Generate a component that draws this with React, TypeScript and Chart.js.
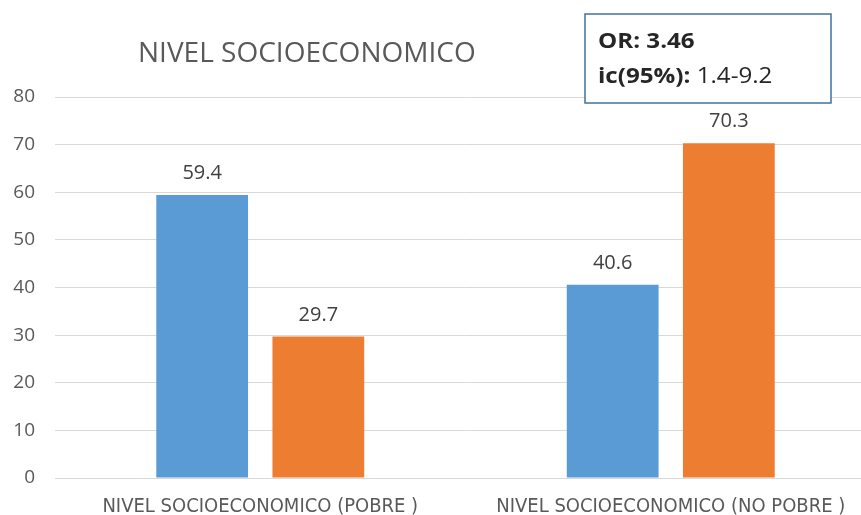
import React, { useEffect, useRef } from "react";
import { Chart, registerables } from "chart.js";

Chart.register(...registerables);

const categories = [
  "NIVEL SOCIOECONOMICO (POBRE )",
  "NIVEL SOCIOECONOMICO (NO POBRE )",
];
const seriesBlue = [59.4, 40.6];
const seriesOrange = [29.7, 70.3];
const yTicks = [0, 10, 20, 30, 40, 50, 60, 70, 80];
const chartTitle = "NIVEL SOCIOECONOMICO";
const noteBold1 = "OR: 3.46";
const noteBold2 = "ic(95%):";
const noteNormal2 = " 1.4-9.2";

const GRAY = "#595959";
const FONT = "'Open Sans', 'Noto Sans', sans-serif";

const overlayPlugin = {
  id: "overlay",
  afterDatasetsDraw(chart: any) {
    const ctx = chart.ctx as CanvasRenderingContext2D;
    ctx.save();
    // value labels above bars
    ctx.fillStyle = "#404040";
    ctx.font = `20px ${FONT}`;
    ctx.textAlign = "center";
    ctx.textBaseline = "alphabetic";
    chart.data.datasets.forEach((ds: any, di: number) => {
      const meta = chart.getDatasetMeta(di);
      meta.data.forEach((bar: any, i: number) => {
        ctx.fillText(String(ds.data[i]), bar.x, bar.y - 16);
      });
    });
    // title
    ctx.fillStyle = GRAY;
    ctx.font = `28px ${FONT}`;
    ctx.textAlign = "left";
    ctx.fillText(chartTitle, 138, 62);
    // note box
    ctx.fillStyle = "#ffffff";
    ctx.fillRect(585, 14, 246, 89);
    ctx.strokeStyle = "#41719c";
    ctx.lineWidth = 1.5;
    ctx.strokeRect(585, 14, 246, 89);
    ctx.fillStyle = "#262626";
    ctx.translate(598, 0);
    ctx.scale(1.15, 1);
    ctx.font = `bold 21px ${FONT}`;
    ctx.fillText(noteBold1, 0, 48);
    ctx.fillText(noteBold2, 0, 83);
    const w = ctx.measureText(noteBold2).width;
    ctx.font = `21px ${FONT}`;
    ctx.fillText(noteNormal2, w, 83);
    ctx.restore();
  },
};

export default function App() {
  const ref = useRef<HTMLCanvasElement>(null);
  useEffect(() => {
    if (!ref.current) return;
    const chart = new Chart(ref.current, {
      type: "bar",
      data: {
        labels: categories,
        datasets: [
          { data: seriesBlue, backgroundColor: "#5b9bd5" },
          { data: seriesOrange, backgroundColor: "#ed7d31" },
        ],
      },
      options: {
        animation: false,
        responsive: false,
        layout: { padding: { top: 97, bottom: 0, left: 0, right: 4 } },
        plugins: { legend: { display: false }, tooltip: { enabled: false } },
        datasets: { bar: { categoryPercentage: 0.566, barPercentage: 0.79 } },
        scales: {
          x: {
            afterFit: (s: any) => { s.height = 37; },
            grid: { display: false, drawTicks: false },
            border: { color: "#d9d9d9", width: 1 },
            ticks: {
              color: GRAY,
              font: { family: "'Liberation Sans Narrow', 'DejaVu Sans Condensed', sans-serif", size: 20 },
              padding: 17,
              maxRotation: 0,
              autoSkip: false,
            },
          },
          y: {
            min: 0,
            max: 80,
            afterFit: (s: any) => { s.width = 55; },
            afterBuildTicks: (s: any) => { s.ticks = yTicks.map((v) => ({ value: v })); },
            grid: { color: "#d9d9d9", drawTicks: false },
            border: { display: false },
            ticks: { color: GRAY, font: { family: FONT, size: 19 }, padding: 20 },
          },
        },
      },
      plugins: [overlayPlugin],
    });
    return () => chart.destroy();
  }, []);
  return (
    <div style={{ position: "fixed", left: 0, top: 0, width: 861, height: 515, overflow: "hidden", background: "#fff" }}>
      <canvas ref={ref} width={880} height={515} />
    </div>
  );
}
